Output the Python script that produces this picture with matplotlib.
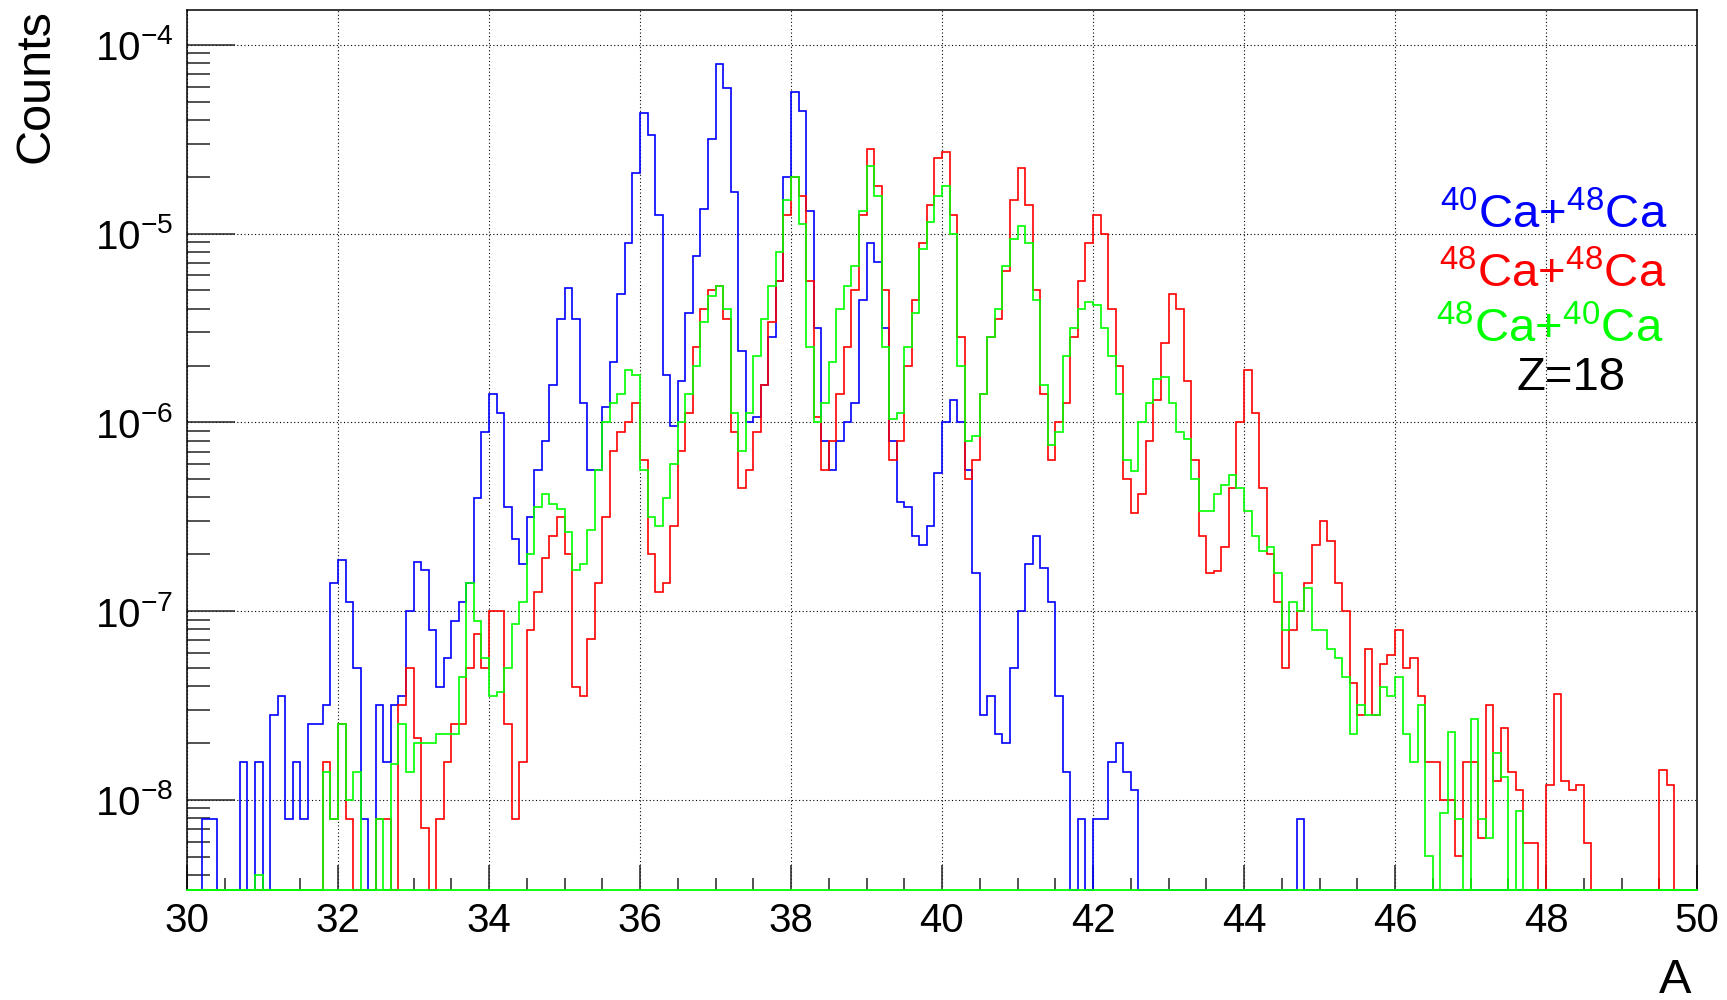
import numpy as np
import matplotlib
matplotlib.use('Agg')
import matplotlib.pyplot as plt
from matplotlib.ticker import FixedLocator, LogLocator, MultipleLocator, FuncFormatter, NullFormatter

plt.rcParams['font.family'] = 'Liberation Sans'
plt.rcParams['mathtext.fontset'] = 'custom'
plt.rcParams['mathtext.rm'] = 'Liberation Sans'
plt.rcParams['mathtext.default'] = 'regular'

# mass number axis, 0.1 wide bins
a_min, a_max = 30.0, 50.0
n_bins = 200
y_min, y_max = 3.33e-9, 1.53e-4

N = None  # empty bin

# log10(counts) per bin, A = 30.0 ... 49.9 (one row per unit of A)
log_ca40_ca48 = [
    N, N, -8.1, -8.1, N, N, N, -7.8, N, -7.8,
    N, -7.55, -7.45, -8.1, -7.8, -8.1, -7.6, -7.6, -7.5, -6.85,
    -6.73, -6.95, -7.3, -8.1, N, -7.5, -7.8, -7.5, -7.45, -7.0,
    -6.74, -6.78, -7.1, -7.4, -7.25, -7.05, -6.95, -6.85, -6.4, -6.05,
    -5.85, -5.95, -6.45, -6.62, -6.75, -6.5, -6.25, -6.1, -5.8, -5.45,
    -5.29, -5.45, -5.9, -6.25, -6.25, -5.92, -5.68, -5.32, -5.05, -4.68,
    -4.36, -4.48, -4.9, -5.75, -6.02, -5.78, -5.42, -5.12, -4.87, -4.5,
    -4.1, -4.23, -4.78, -5.62, -6.0, -5.97, -5.8, -5.55, -5.25, -4.7,
    -4.25, -4.35, -4.88, -5.5, -6.1, -6.25, -6.1, -6.0, -5.9, -5.35,
    -5.05, -5.15, -5.5, -6.1, -6.42, -6.45, -6.6, -6.65, -6.55, -6.27,
    -6.0, -5.88, -6.0, -6.25, -6.8, -7.55, -7.45, -7.65, -7.7, -7.3,
    -7.0, -6.75, -6.6, -6.77, -6.95, -7.45, -7.85, N, -8.1, N,
    -8.1, -8.1, -7.8, -7.7, -7.85, -7.95, N, N, N, N,
    N, N, N, N, N, N, N, N, N, N,
    N, N, N, N, N, N, N, -8.1, N, N,
    N, N, N, N, N, N, N, N, N, N,
    N, N, N, N, N, N, N, N, N, N,
    N, N, N, N, N, N, N, N, N, N,
    N, N, N, N, N, N, N, N, N, N,
    N, N, N, N, N, N, N, N, N, N,
]

log_ca48_ca48 = [
    N, N, N, N, N, N, N, N, N, N,
    N, N, N, N, N, N, N, N, -7.8, -8.1,
    -7.6, -8.1, N, N, N, -8.1, -8.1, N, -7.5, -7.3,
    -7.67, -8.15, N, -8.1, -7.8, -7.6, -7.6, -7.3, -7.12, -7.3,
    -7.0, -7.0, -7.6, -8.1, -7.8, -7.1, -6.9, -6.72, -6.6, -6.5,
    -6.7, -7.4, -7.45, -7.15, -6.85, -6.5, -6.15, -6.05, -6.0, -5.9,
    -6.2, -6.7, -6.9, -6.85, -6.55, -6.15, -5.95, -5.6, -5.4, -5.3,
    -5.28, -5.45, -6.05, -6.35, -6.25, -6.05, -5.8, -5.47, -5.25, -4.9,
    -4.7, -4.8, -5.25, -5.97, -6.25, -6.1, -5.85, -5.6, -5.3, -4.9,
    -4.55, -4.75, -5.3, -6.2, -6.1, -5.7, -5.35, -5.05, -4.85, -4.6,
    -4.57, -4.9, -5.55, -6.3, -6.2, -5.85, -5.55, -5.45, -5.2, -4.82,
    -4.65, -4.85, -5.3, -5.85, -6.2, -6.0, -5.9, -5.55, -5.25, -5.05,
    -4.9, -5.0, -5.4, -5.7, -6.3, -6.48, -6.38, -6.1, -5.88, -5.58,
    -5.32, -5.4, -5.78, -6.2, -6.6, -6.8, -6.79, -6.66, -6.35, -6.0,
    -5.72, -5.95, -6.35, -6.7, -6.95, -7.3, -7.1, -7.0, -6.85, -6.65,
    -6.52, -6.63, -6.85, -7.0, -7.38, -7.55, -7.2, -7.55, -7.28, -7.23,
    -7.1, -7.3, -7.25, -7.45, -7.8, -7.8, -8.0, -8.0, -8.3, -7.8,
    -7.8, -8.2, -7.5, -7.9, -7.62, -7.85, -7.95, -8.23, -8.23, N,
    -7.92, -7.44, -7.9, -7.95, -7.92, -8.23, N, N, N, N,
    N, N, N, N, N, -7.84, -7.92, N, N, N,
]

log_ca48_ca40 = [
    N, N, N, N, N, N, N, N, N, -8.4,
    N, N, N, N, N, N, N, N, -7.85, -8.1,
    -7.6, -8.0, -7.85, N, N, -8.1, N, -7.81, -7.6, -7.85,
    -7.7, -7.7, -7.7, -7.65, -7.65, -7.65, -7.35, -6.85, -7.05, -7.25,
    -7.45, -7.43, -7.3, -7.07, -6.95, -6.7, -6.45, -6.38, -6.43, -6.46,
    -6.58, -6.78, -6.75, -6.57, -6.25, -6.0, -5.9, -5.85, -5.72, -5.75,
    -6.25, -6.5, -6.55, -6.4, -6.22, -6.0, -5.85, -5.7, -5.47, -5.33,
    -5.28, -5.4, -5.95, -6.15, -5.95, -5.65, -5.45, -5.28, -5.1, -4.82,
    -4.7, -4.95, -5.6, -6.0, -5.9, -5.68, -5.4, -5.28, -5.17, -4.88,
    -4.64, -4.8, -5.6, -5.98, -5.95, -5.6, -5.42, -5.08, -4.94, -4.8,
    -4.75, -5.0, -5.7, -6.1, -6.07, -5.85, -5.55, -5.4, -5.17, -5.03,
    -4.96, -5.05, -5.35, -5.8, -6.12, -6.05, -5.65, -5.5, -5.4, -5.36,
    -5.38, -5.5, -5.65, -5.85, -6.2, -6.26, -6.0, -5.9, -5.77, -5.76,
    -5.9, -6.05, -6.09, -6.3, -6.47, -6.47, -6.38, -6.33, -6.28, -6.35,
    -6.47, -6.6, -6.68, -6.66, -6.8, -7.1, -6.95, -7.0, -6.88, -7.1,
    -7.1, -7.2, -7.25, -7.35, -7.65, -7.5, -7.55, -7.55, -7.4, -7.45,
    -7.35, -7.65, -7.8, -7.5, -8.3, N, -8.07, -7.64, -8.1, N,
    -7.57, -8.1, -8.2, -7.75, -7.88, N, -8.06, N, N, N,
    N, N, N, N, N, N, N, N, N, N,
    N, N, N, N, N, N, N, N, N, N,
]

labels = [r'$^{40}$Ca+$^{48}$Ca', r'$^{48}$Ca+$^{48}$Ca', r'$^{48}$Ca+$^{40}$Ca']
colors = ['#0000ff', '#ff0000', '#00ff00']


def to_counts(logs):
    # empty bins sit on the lower frame, like ROOT draws them
    return np.array([y_min if v is None else 10.0 ** v for v in logs])


edges = np.linspace(a_min, a_max, n_bins + 1)

fig = plt.figure(figsize=(17.27, 10), dpi=100)
ax = fig.add_axes([187 / 1727, 0.11, 1510 / 1727, 0.88])
ax.set_yscale('log')
ax.set_xlim(a_min, a_max)
ax.set_ylim(y_min, y_max)

for logs, col in zip([log_ca40_ca48, log_ca48_ca48, log_ca48_ca40], colors):
    ax.stairs(to_counts(logs), edges, color=col, lw=1.2, baseline=None,
              clip_on=False, zorder=3)

ax.grid(True, which='major', linestyle=(0, (1, 2.2)), color='black', lw=0.8)

ax.xaxis.set_major_locator(MultipleLocator(2))
ax.xaxis.set_minor_locator(MultipleLocator(0.5))
ax.yaxis.set_major_locator(FixedLocator([1e-8, 1e-7, 1e-6, 1e-5, 1e-4]))
ax.yaxis.set_minor_locator(LogLocator(base=10, subs=np.arange(2, 10)))
ax.yaxis.set_major_formatter(FuncFormatter(lambda v, p: r'$10^{%d}$' % round(np.log10(v))))
ax.yaxis.set_minor_formatter(NullFormatter())

ax.tick_params(axis='both', which='both', direction='in', top=False, right=False,
               width=1.1, color='#222222')
ax.tick_params(axis='y', which='major', length=34.5, pad=10, labelsize=29)
ax.tick_params(axis='y', which='minor', length=16.5)
ax.tick_params(axis='x', which='major', length=18, pad=9, labelsize=29)
ax.tick_params(axis='x', which='minor', length=8.6)
for sp in ax.spines.values():
    sp.set_linewidth(1.1)
# last histogram drawn (green) lies over the bottom frame
ax.spines['bottom'].set_color(colors[2])
ax.spines['bottom'].set_linewidth(1.3)
ax.spines['bottom'].set_zorder(3.5)

fig.text(36 / 1727, 1 - 9 / 1000, 'Counts', rotation=90, ha='center', va='top', fontsize=35)
fig.text(1691 / 1727, 1 - 993 / 1000, 'A', ha='right', va='baseline', fontsize=35)

label_right = [1667, 1666, 1663]
label_base = [228, 287, 342]
for txt, col, xr, yb in zip(labels, colors, label_right, label_base):
    fig.text(xr / 1727, 1 - yb / 1000, txt, color=col, ha='right', va='baseline', fontsize=34)
fig.text(1571 / 1727, 1 - 390 / 1000, 'Z=18', color='black', ha='center', va='baseline', fontsize=34)

fig.savefig('out.png', dpi=100)
